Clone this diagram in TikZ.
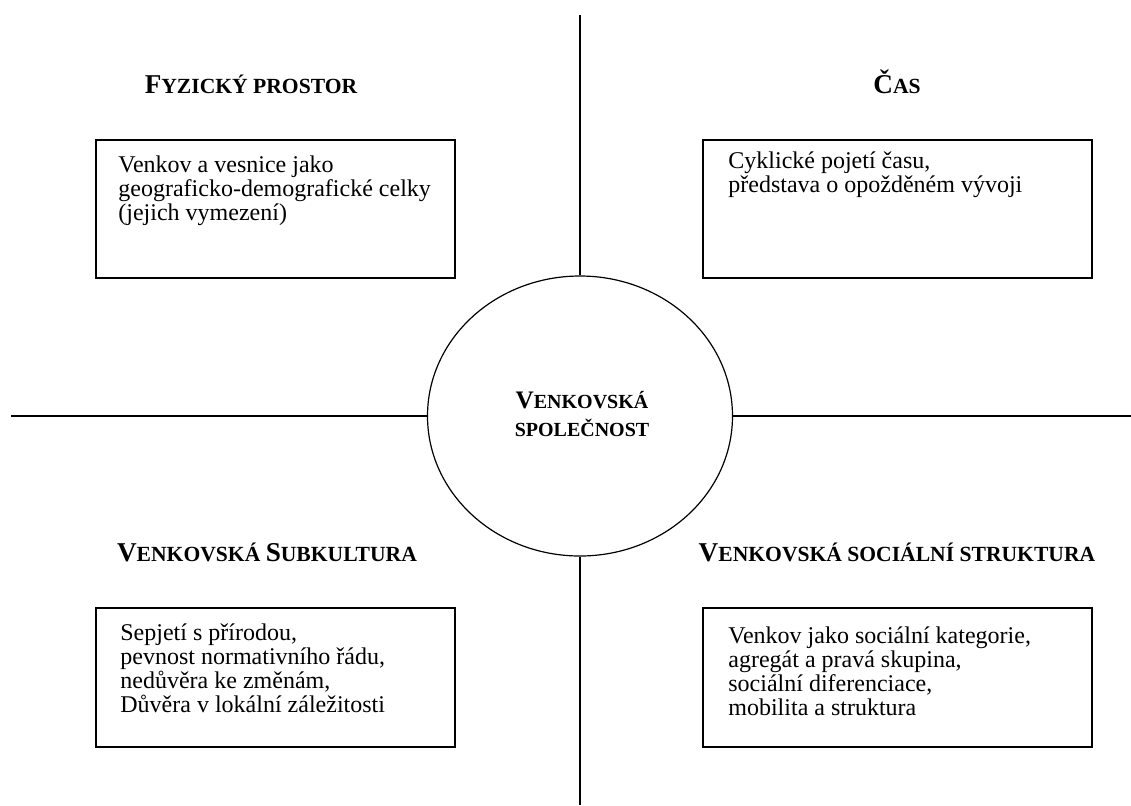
\documentclass[tikz,border=0pt]{standalone}
\usepackage{fontspec}
\setmainfont{Liberation Serif}
\usetikzlibrary{shapes.geometric}
% big first letter, smaller rest (small caps look)
\newcommand{\capsc}[2]{{\fontsize{13.6}{13.6}\selectfont #1}{\fontsize{10.8}{10.8}\selectfont #2}}
\newcommand{\capsm}[2]{{\fontsize{12.6}{12.6}\selectfont #1}{\fontsize{10}{10}\selectfont #2}}
% lines hung from the first baseline
\newcommand{\stack}[1]{\vtop{\baselineskip=12pt\halign{##\hfil\cr#1\crcr}}}

\begin{document}
\begin{tikzpicture}[x=0.5pt,y=-0.5pt,
  box/.style={draw,line width=0.8pt},
  axis/.style={draw,line width=0.6pt},
  head/.style={font=\bfseries,anchor=base,inner sep=0pt},
  body/.style={anchor=base west,inner sep=0pt,
    font=\fontsize{12}{12}\selectfont}]
\useasboundingbox (0,0) rectangle (1131,805);
% centre
\node[ellipse,draw,line width=0.6pt,minimum width=152.5pt,minimum height=140pt,
  inner sep=0pt] (soc) at (580,416) {};
\node[align=center,inner sep=0pt,font=\bfseries\fontsize{12}{14}\selectfont]
  (soctext) at (582,414) {\capsm{V}{ENKOVSKÁ}\\\capsm{}{SPOLEČNOST}};
% axes
\coordinate (top) at (580,15);
\coordinate (bottom) at (580,805);
\coordinate (left) at (11,416);
\coordinate (right) at (1131,416);
\draw[axis] (soc.north) -- (top);
\draw[axis] (soc.south) -- (bottom);
\draw[axis] (soc.west) -- (left);
\draw[axis] (soc.east) -- (right);
% physical space
\node[head] (fyz) at (251,93) {\capsc{F}{YZICKÝ PROSTOR}};
\draw[box] (96,140) rectangle (455,278);
\node[body] (fyztext) at (118,172)
  {\stack{Venkov a vesnice jako\cr geograficko-demografické celky\cr (jejich vymezení)}};
% time
\node[head] (cas) at (897,93) {\capsc{Č}{AS}};
\draw[box] (703,140) rectangle (1092,278);
\node[body] (castext) at (728,168)
  {\stack{Cyklické pojetí času,\cr představa o opožděném vývoji}};
% subculture
\node[head] (sub) at (267,561) {\capsc{V}{ENKOVSKÁ }\capsc{S}{UBKULTURA}};
\draw[box] (96,608) rectangle (455,747);
\node[body] (subtext) at (120,640)
  {\stack{Sepjetí s přírodou,\cr pevnost normativního řádu,\cr nedůvěra ke změnám,\cr Důvěra v lokální záležitosti}};
% social structure
\node[head] (str) at (897,561) {\capsc{V}{ENKOVSKÁ SOCIÁLNÍ STRUKTURA}};
\draw[box] (703,608) rectangle (1092,747);
\node[body] (strtext) at (728,643)
  {\stack{Venkov jako sociální kategorie,\cr agregát a pravá skupina,\cr sociální diferenciace,\cr mobilita a struktura}};
\end{tikzpicture}
\end{document}
